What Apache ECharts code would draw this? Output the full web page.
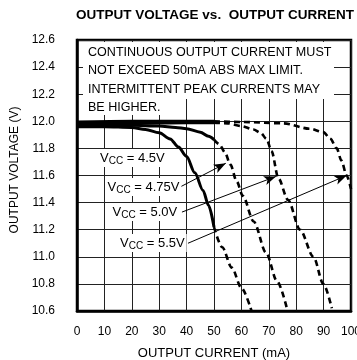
<!DOCTYPE html>
<html>
<head>
<meta charset="utf-8">
<script src="https://cdn.jsdelivr.net/npm/echarts@6/dist/echarts.min.js"></script>
<style>html,body{margin:0;padding:0;background:#fff}#c{width:357px;height:360px}</style>
</head>
<body>
<div id="c"></div>
<script>
// ---- data (output current mA, output voltage V) ----
const xTicks = [0, 100, 10];          // min, max, interval (mA)
const yTicks = [10.6, 12.6, 0.2];     // min, max, interval (V)
const vcc45Solid = [[0,11.96],[10,11.96],[20,11.955],[25,11.94],[30,11.915],[34,11.87],[37,11.81],[40,11.74],[43,11.62],[46,11.49],[48,11.38],[50,11.22]];
const vcc45Dashed = [[50,11.22],[53,11.07],[56.5,10.92],[60,10.77],[63.7,10.6]];
const vcc475Solid = [[0,11.97],[10,11.97],[20,11.97],[30,11.965],[36,11.955],[40,11.945],[45,11.92],[48,11.89],[50,11.865]];
const vcc475Dashed = [[50,11.865],[52,11.83],[54,11.77],[56,11.68],[58.3,11.555],[60.5,11.45],[64.5,11.26],[69,11.03],[73,10.82],[76.6,10.62]];
const vcc50Solid = [[0,11.98],[20,11.985],[40,11.99],[50,11.99]];
const vcc50Dashed = [[50,11.99],[55,11.985],[60,11.965],[64.4,11.94],[67,11.915],[69.2,11.87],[71,11.78],[73.5,11.58],[77,11.42],[81.4,11.2],[86.3,11.0],[89.9,10.8],[93,10.62]];
const vcc55Solid = [[0,11.995],[20,12.0],[50,12.0]];
const vcc55Dashed = [[50,12.0],[60,11.995],[75.3,11.985],[85,11.945],[89.9,11.92],[92.5,11.87],[94.8,11.8],[96.5,11.71],[98.4,11.6],[100,11.5]];
const arrow475 = [[37.6,11.515],[54.3,11.69]];
const arrow50 = [[38.3,11.33],[72.6,11.593]];
const arrow55 = [[40.5,11.10],[98.4,11.6]];
const vccLabels = ['4.5V', '4.75V', '5.0V', '5.5V'];
const noteLines = ['CONTINUOUS OUTPUT CURRENT MUST', 'NOT EXCEED 50mA ABS MAX LIMIT.', 'INTERMITTENT PEAK CURRENTS MAY', 'BE HIGHER.'];
const titleText = 'OUTPUT VOLTAGE vs.  OUTPUT CURRENT';
const xName = 'OUTPUT CURRENT (mA)';
const yName = 'OUTPUT VOLTAGE (V)';

const FONT = '"Liberation Sans", Arial, Helvetica, sans-serif';
const chart = echarts.init(document.getElementById('c'), null, {renderer: 'canvas'});

function solid(data) {
  return {type: 'line', data: data, showSymbol: false, smooth: 0.3, smoothMonotone: 'x',
    lineStyle: {color: '#000', width: 3}, z: 5, silent: true, animation: false};
}
function dashed(data) {
  return {type: 'line', data: data, showSymbol: false, smooth: 0.3, smoothMonotone: 'x',
    lineStyle: {color: '#000', width: 2.6, type: [6, 4]}, z: 5, silent: true, animation: false};
}
function arrowSeries(pts) {
  return {type: 'line', data: [], silent: true, animation: false,
    markLine: {silent: true, animation: false, symbol: ['none', 'arrow'], symbolSize: [7, 12],
      label: {show: false}, lineStyle: {color: '#000', width: 1, type: 'solid'},
      data: [[{coord: pts[0]}, {coord: pts[1]}]]}};
}

const labelPos = [[99, 158], [106.5, 187], [111.5, 212], [119, 243]];
const graphics = [];
graphics.push({type: 'text', x: 215, y: 15, z: 200, style: {text: titleText, font: 'bold 13.5px ' + FONT, fill: '#000', textAlign: 'center', textVerticalAlign: 'middle'}});
graphics.push({type: 'text', x: 214, y: 353, z: 200, style: {text: xName, font: '13px ' + FONT, fill: '#000', textAlign: 'center', textVerticalAlign: 'middle'}});
graphics.push({type: 'text', x: 15, y: 170, rotation: Math.PI / 2, z: 200, style: {text: yName, font: '12px ' + FONT, fill: '#000', textAlign: 'center', textVerticalAlign: 'middle'}});
graphics.push({type: 'rect', z: 100, shape: {x: 83, y: 42, width: 251, height: 57}, style: {fill: '#fff'}});
graphics.push({type: 'rect', z: 100, shape: {x: 83, y: 99, width: 78, height: 16}, style: {fill: '#fff'}});
const noteY = [52, 70.5, 89, 107.5];
noteLines.forEach(function (t, i) {
  graphics.push({type: 'text', x: 88, y: noteY[i], scaleX: 0.93, z: 101,
    style: {text: t, font: '13.5px ' + FONT, fill: '#000', textAlign: 'left', textVerticalAlign: 'middle'}});
});
vccLabels.forEach(function (t, i) {
  graphics.push({type: 'text', x: labelPos[i][0], y: labelPos[i][1], z: 101,
    style: {text: '{v|V}{s|CC}{v| = ' + t + '}', fill: '#000', textAlign: 'left', textVerticalAlign: 'middle',
      backgroundColor: '#fff', padding: [1, 2, 1, 1],
      rich: {v: {font: '13px ' + FONT, fontSize: 13, fontFamily: FONT, lineHeight: 16, fill: '#000', color: '#000'},
             s: {font: '10px ' + FONT, fontSize: 10, fontFamily: FONT, lineHeight: 8, verticalAlign: 'bottom', fill: '#000', color: '#000'}}}});
});

chart.setOption({
  animation: false,
  backgroundColor: '#fff',
  grid: {left: 77, right: 6, top: 40, bottom: 49, containLabel: false, outerBoundsMode: 'none',
    show: true, borderColor: '#000', borderWidth: 2.5, backgroundColor: 'transparent'},
  xAxis: {type: 'value', min: xTicks[0], max: xTicks[1], interval: xTicks[2],
    axisLine: {show: true, lineStyle: {color: '#000', width: 2.5}}, axisTick: {show: false},
    axisLabel: {color: '#000', fontSize: 12, fontFamily: FONT, margin: 15, alignMinLabel: 'center', alignMaxLabel: 'center', hideOverlap: false},
    splitLine: {show: true, lineStyle: {color: '#222', width: 1}}},
  yAxis: {type: 'value', min: yTicks[0], max: yTicks[1], interval: yTicks[2],
    axisLine: {show: true, lineStyle: {color: '#000', width: 2.5}}, axisTick: {show: false},
    axisLabel: {color: '#000', fontSize: 12, fontFamily: FONT, margin: 22, formatter: function (v) { return v.toFixed(1); }},
    splitLine: {show: true, lineStyle: {color: '#222', width: 1}}},
  series: [
    solid(vcc45Solid), dashed(vcc45Dashed),
    solid(vcc475Solid), dashed(vcc475Dashed),
    solid(vcc50Solid), dashed(vcc50Dashed),
    solid(vcc55Solid), dashed(vcc55Dashed),
    arrowSeries(arrow475), arrowSeries(arrow50), arrowSeries(arrow55)
  ],
  graphic: graphics
});
</script>
</body>
</html>
